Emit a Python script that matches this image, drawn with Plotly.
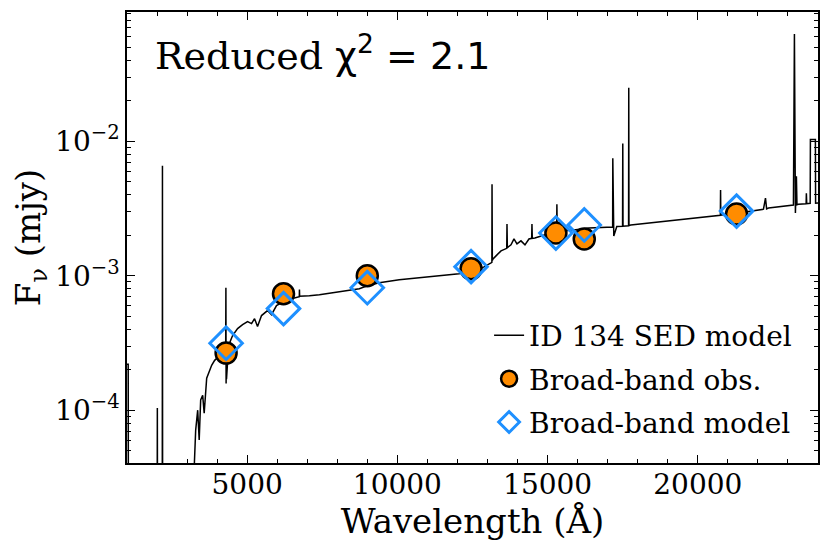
import numpy as np
import plotly.graph_objects as go

# SED model spectrum (wavelength in Angstrom, flux in mJy)
sed_wave = [
    1000, 1040, 1060, 1990, 2010, 2030, 2170, 2180, 2190,
    3200, 3220, 3286, 3353, 3403, 3452, 3519, 3569, 3652, 3718, 3818, 3917,
    4083, 4216, 4285, 4292, 4299, 4305, 4312, 4382, 4515, 4681, 4847, 5013,
    5146, 5246, 5345, 5478, 5677, 5810, 5976, 6209, 6475, 6674, 6735, 6740,
    6746, 7072, 7404, 8069, 8733, 8998, 9397, 10061, 11057, 12054, 12552,
    12884, 13117, 13145, 13150, 13160, 13183, 13283, 13449, 13640, 13648,
    13660, 13781, 13881, 13980, 14113, 14246, 14379, 14470, 14479, 14490,
    14578, 14877, 15209, 15300, 15309, 15320, 15409, 15874, 16372, 16871,
    17103, 17165, 17170, 17180, 17203, 17303, 17495, 17502, 17510, 17602,
    17695, 17701, 17708, 17768, 18366, 19030, 20026, 20750, 20757, 20765,
    21355, 22185, 22252, 22290, 22352, 23182, 23215, 23235, 23248, 23281,
    23300, 23348, 23605, 23613, 23625, 23680, 23740, 23747, 23913, 23920,
    23946, 24100,
]
sed_flux = [
    2.2e-4, 2.2e-4, 1e-7, 1e-7, 1.04e-4, 1e-7, 1e-7, 6.6e-3, 1e-7,
    1e-7, 3.0e-5, 7.11e-5, 1.0e-4, 6.0e-5, 1.19e-4, 1.29e-4, 9.5e-5, 1.73e-4, 1.91e-4, 2.16e-4, 2.35e-4,
    2.55e-4, 2.69e-4, 2.75e-4, 8.15e-4, 1.58e-4, 2.85e-4, 1.7e-4, 3.03e-4, 3.59e-4, 4.05e-4, 4.33e-4, 4.56e-4,
    4.41e-4, 4.8e-4, 4.19e-4, 5.06e-4, 5.51e-4, 5.14e-4, 6.0e-4, 6.42e-4, 6.76e-4, 6.99e-4, 7.0e-4, 7.9e-4,
    7.05e-4, 7.11e-4, 7.23e-4, 7.61e-4, 8.01e-4, 8.43e-4, 8.88e-4, 9.34e-4, 9.84e-4, 1.035e-3, 1.089e-3,
    1.166e-3, 1.249e-3, 1.26e-3, 4.8e-3, 1.3e-3, 1.337e-3, 1.407e-3, 1.531e-3, 1.6e-3, 2.43e-3,
    1.62e-3, 1.7e-3, 1.88e-3, 1.73e-3, 1.82e-3, 1.7e-3, 1.88e-3, 1.9e-3, 2.43e-3, 1.9e-3,
    1.91e-3, 2.01e-3, 2.12e-3, 2.13e-3, 3.41e-3, 2.14e-3, 2.15e-3, 2.19e-3, 2.27e-3, 2.31e-3,
    2.31e-3, 2.31e-3, 7.48e-3, 2.2e-3, 1.98e-3, 2.33e-3, 2.34e-3, 9.66e-3, 2.34e-3, 2.35e-3,
    2.36e-3, 2.51e-2, 2.37e-3, 2.39e-3, 2.47e-3, 2.56e-3, 2.69e-3, 2.82e-3, 4.34e-3, 2.83e-3,
    2.93e-3, 3.13e-3, 3.78e-3, 3.15e-3, 3.19e-3, 3.36e-3, 6.31e-2, 3.3e-3, 2.93e-3, 5.51e-3,
    3.38e-3, 3.41e-3, 3.44e-3, 4.12e-3, 3.44e-3, 3.45e-3, 3.46e-3, 1.035e-2, 1.035e-2, 3.47e-3,
    3.48e-3, 3.5e-3,
]

# broad-band photometry
band_wave = [4299, 6209, 8998, 12452, 15276, 16220, 21289]
obs_flux = [2.66e-4, 7.36e-4, 1.0e-3, 1.127e-3, 2.08e-3, 1.88e-3, 2.88e-3]
model_flux = [3.15e-4, 5.7e-4, 8.15e-4, 1.17e-3, 2.08e-3, 2.39e-3, 3.03e-3]

x_ticks = [5000, 10000, 15000, 20000]
y_ticks = [1e-4, 1e-3, 1e-2]
y_ticktext = ['10<sup>−4</sup>', '10<sup>−3</sup>', '10<sup>−2</sup>']

serif = "DejaVu Serif"

fig = go.Figure()

fig.add_trace(go.Scatter(
    x=sed_wave, y=sed_flux, mode='lines',
    line=dict(color='black', width=1.5),
    name='ID 134 SED model', legendgroup='a',
))
fig.add_trace(go.Scatter(
    x=band_wave, y=obs_flux, mode='markers',
    marker=dict(symbol='circle', size=21, color='darkorange',
                line=dict(color='black', width=2.5)),
    name='Broad-band obs.', legendgroup='b',
))
fig.add_trace(go.Scatter(
    x=band_wave, y=model_flux, mode='markers',
    marker=dict(symbol='diamond-open', size=25, color='dodgerblue',
                line=dict(width=3)),
    name='Broad-band model', legendgroup='c',
))

y_minor = [k * 10.0 ** d for d in range(-5, 0) for k in range(2, 10)]

fig.add_annotation(
    xref='paper', yref='paper', x=0.037, y=0.968, xanchor='left', yanchor='top',
    text='Reduced <span style="font-family:DejaVu Sans">χ<sup>2</sup> = 2.1</span>',
    showarrow=False, font=dict(family=serif, size=38, color='black'),
)

fig.update_layout(
    width=830, height=554,
    margin=dict(l=127, r=10, t=10, b=91),
    paper_bgcolor='white', plot_bgcolor='white',
    font=dict(family=serif, size=28, color='black'),
    showlegend=True,
    legend=dict(
        x=0.524, y=0.338, xanchor='left', yanchor='top',
        bgcolor='rgba(0,0,0,0)', font=dict(family=serif, size=28),
        tracegroupgap=4,
    ),
    xaxis=dict(
        range=[1000, 24000], showgrid=False, zeroline=False,
        showline=True, linecolor='black', linewidth=1.5, mirror='ticks',
        ticks='inside', ticklen=8, tickwidth=1.2, tickcolor='black',
        tickvals=x_ticks, tickformat='d', ticklabelstandoff=-4,
        minor=dict(ticks='inside', ticklen=4, tickwidth=1.2, tickcolor='black', dtick=1000, tick0=0),
        title=dict(text='Wavelength (Å)', standoff=6),
        tickfont=dict(size=28),
    ),
    yaxis=dict(
        type='log', range=[-4.393, -1.037], showgrid=False, zeroline=False,
        showline=True, linecolor='black', linewidth=1.5, mirror='ticks',
        ticks='inside', ticklen=8, tickwidth=1.2, tickcolor='black',
        tickvals=y_ticks, ticktext=y_ticktext,
        minor=dict(ticks='inside', ticklen=4, tickwidth=1.2, tickcolor='black',
                   tickmode='array', tickvals=y_minor),
        title=dict(text='F<sub>ν</sub> (mjy)', standoff=4),
        tickfont=dict(size=28),
    ),
)

fig.write_html("out.html", config={'displayModeBar': False},
               post_script="document.body.style.margin='0';")
